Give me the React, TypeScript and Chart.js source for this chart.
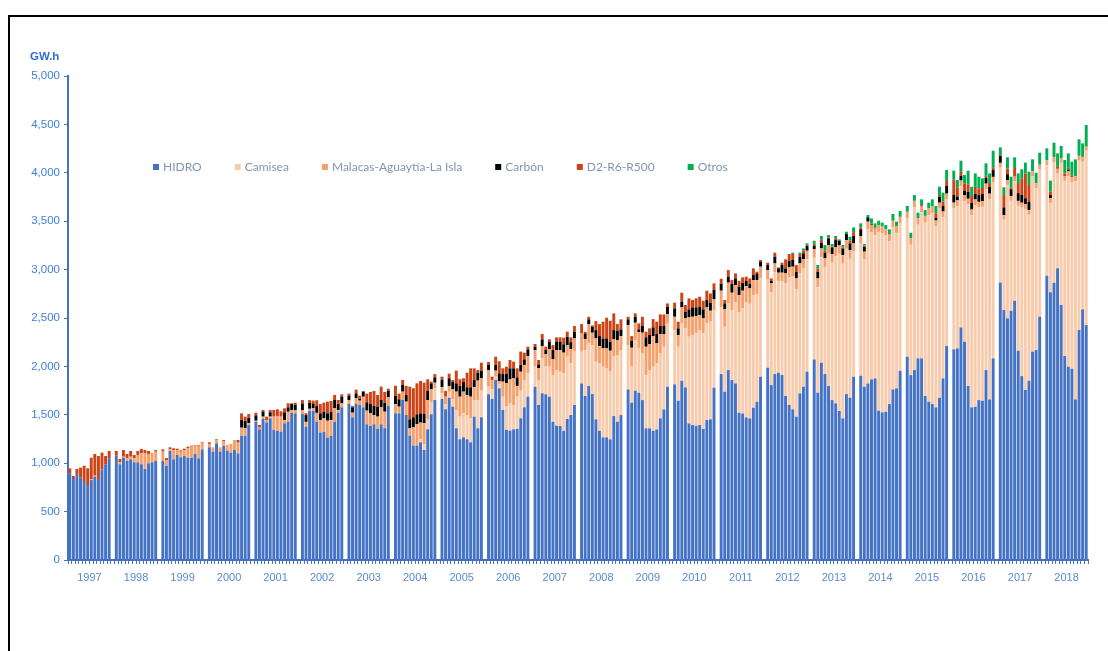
import React, { useEffect, useRef } from 'react';
import { Chart, registerables } from 'chart.js';

Chart.register(...registerables);

// ---------- DATA (monthly GW.h, Jan..Dec for each year) ----------
const years = [1997, 1998, 1999, 2000, 2001, 2002, 2003, 2004, 2005, 2006, 2007, 2008, 2009, 2010, 2011, 2012, 2013, 2014, 2015, 2016, 2017, 2018];

const hidro = [
  896, 837, 888, 850, 816, 764, 826, 861, 837, 937, 989, 1050,
  1078, 989, 1057, 1026, 1040, 1009, 1009, 989, 940, 999, 1009, 1023,
  1023, 974, 1126, 1040, 1085, 1061, 1074, 1057, 1057, 1095, 1050, 1143,
  1164, 1119, 1205, 1119, 1178, 1129, 1109, 1136, 1102, 1284, 1284, 1395,
  1429, 1350, 1457, 1422, 1464, 1343, 1336, 1326, 1412, 1429, 1522, 1515,
  1508, 1377, 1542, 1542, 1430, 1316, 1326, 1264, 1281, 1429, 1522, 1577,
  1612, 1474, 1612, 1601, 1577, 1402, 1385, 1402, 1354, 1402, 1361, 1591,
  1515, 1515, 1653, 1498, 1285, 1182, 1182, 1216, 1137, 1350, 1505, 1653,
  1664, 1557, 1677, 1584, 1361, 1247, 1268, 1247, 1216, 1481, 1361, 1474,
  1712, 1664, 1860, 1774, 1550, 1344, 1337, 1350, 1354, 1464, 1577, 1687,
  1790, 1601, 1722, 1712, 1687, 1429, 1388, 1385, 1333, 1457, 1498, 1601,
  1824, 1694, 1797, 1714, 1453, 1335, 1267, 1267, 1246, 1487, 1428, 1497,
  1762, 1625, 1749, 1728, 1652, 1360, 1360, 1335, 1349, 1463, 1556, 1790,
  1814, 1645, 1852, 1783, 1411, 1394, 1387, 1394, 1353, 1446, 1453, 1780,
  1921, 1738, 1962, 1859, 1824, 1521, 1514, 1473, 1463, 1573, 1635, 1893,
  1986, 1807, 1921, 1935, 1911, 1694, 1601, 1556, 1480, 1721, 1790, 1945,
  2072, 1728, 2038, 1921, 1797, 1652, 1618, 1539, 1463, 1714, 1676, 1893,
  1904, 1790, 1824, 1866, 1876, 1542, 1525, 1532, 1611, 1762, 1773, 1955,
  2100, 1910, 1962, 2083, 2083, 1694, 1635, 1611, 1577, 1676, 1876, 2210,
  2176, 2186, 2403, 2255, 1797, 1577, 1583, 1652, 1645, 1962, 1659, 2083,
  2868, 2582, 2496, 2575, 2679, 2162, 1900, 1756, 1852, 2152, 2169, 2513,
  2937, 2765, 2865, 3013, 2634, 2107, 1997, 1976, 1659, 2376, 2589, 2427,
];

const camisea = [
  0, 0, 0, 0, 0, 0, 0, 0, 0, 0, 0, 0,
  0, 0, 0, 0, 0, 0, 0, 0, 0, 0, 0, 0,
  0, 0, 0, 0, 0, 0, 0, 0, 0, 0, 0, 0,
  0, 0, 0, 0, 0, 0, 0, 0, 0, 0, 0, 0,
  0, 0, 0, 0, 0, 0, 0, 0, 0, 0, 0, 0,
  0, 0, 0, 0, 0, 0, 0, 0, 0, 0, 0, 0,
  0, 0, 0, 0, 0, 0, 0, 0, 0, 0, 0, 0,
  0, 0, 0, 0, 0, 0, 0, 30, 60, 100, 120, 120,
  60, 50, 60, 76, 189, 234, 247, 251, 247, 172, 292, 282,
  79, 99, 34, 40, 137, 240, 281, 251, 333, 292, 283, 241,
  207, 259, 361, 285, 310, 482, 575, 560, 595, 644, 534, 551,
  328, 475, 441, 506, 595, 696, 730, 712, 699, 613, 689, 672,
  458, 372, 523, 458, 482, 550, 602, 662, 682, 671, 647, 650,
  561, 558, 592, 610, 896, 930, 954, 981, 988, 998, 1009, 802,
  689, 672, 689, 723, 836, 1036, 1088, 1187, 1183, 1159, 1107, 1017,
  909, 961, 1053, 943, 967, 1167, 1322, 1374, 1319, 1243, 1226, 1160,
  1050, 1091, 1091, 1105, 1367, 1419, 1522, 1625, 1597, 1501, 1436, 1298,
  1363, 1315, 1591, 1518, 1477, 1848, 1850, 1818, 1680, 1672, 1602, 1520,
  1427, 1346, 1678, 1380, 1508, 1791, 1926, 1975, 1870, 1955, 1664, 1515,
  1456, 1469, 1457, 1452, 1875, 1983, 2082, 1988, 2003, 1866, 2065, 1815,
  1185, 932, 1379, 1135, 1231, 1498, 1741, 1871, 1713, 1812, 1672, 1520,
  1141, 921, 1246, 978, 1468, 1810, 1969, 1929, 2255, 1750, 1525, 1803,
];

const malacas = [
  0, 0, 0, 0, 0, 0, 10, 10, 0, 0, 0, 0,
  0, 20, 10, 24, 27, 41, 76, 113, 162, 96, 100, 96,
  103, 59, 17, 96, 51, 58, 62, 97, 114, 83, 128, 69,
  35, 45, 35, 45, 51, 60, 90, 104, 110, 83, 76, 20,
  10, 17, 24, 24, 17, 138, 152, 155, 34, 103, 28, 30,
  40, 50, 20, 25, 90, 130, 137, 175, 165, 138, 28, 41,
  41, 48, 58, 45, 110, 141, 130, 96, 127, 175, 171, 89,
  96, 69, 86, 138, 75, 188, 223, 173, 215, 203, 138, 59,
  60, 80, 60, 103, 189, 206, 224, 206, 224, 131, 200, 121,
  172, 97, 62, 35, 155, 241, 248, 276, 110, 189, 155, 179,
  172, 120, 128, 128, 179, 162, 206, 224, 214, 120, 148, 137,
  189, 114, 199, 128, 241, 179, 189, 207, 217, 179, 155, 144,
  207, 196, 179, 169, 214, 293, 269, 316, 207, 200, 128, 100,
  138, 121, 166, 103, 199, 189, 179, 155, 155, 166, 113, 110,
  172, 179, 214, 179, 180, 180, 180, 170, 160, 160, 150, 120,
  100, 90, 90, 90, 90, 100, 100, 100, 110, 100, 90, 90,
  90, 90, 90, 90, 90, 90, 90, 90, 90, 90, 90, 80,
  80, 80, 80, 70, 70, 70, 70, 70, 70, 70, 70, 70,
  70, 70, 70, 70, 60, 70, 70, 70, 60, 60, 60, 60,
  60, 60, 60, 60, 60, 60, 60, 60, 60, 60, 60, 60,
  50, 50, 50, 50, 50, 50, 50, 50, 50, 50, 50, 50,
  50, 50, 50, 50, 50, 50, 50, 50, 50, 50, 50, 40,
];

const carbon = [
  0, 0, 0, 0, 0, 0, 0, 0, 0, 0, 0, 0,
  0, 0, 0, 0, 0, 0, 0, 0, 0, 0, 0, 0,
  0, 0, 0, 0, 0, 0, 0, 0, 0, 0, 0, 0,
  0, 0, 0, 0, 0, 0, 0, 0, 0, 79, 75, 55,
  55, 0, 52, 0, 45, 0, 0, 0, 79, 45, 62, 60,
  70, 70, 60, 50, 70, 69, 69, 76, 86, 86, 62, 69,
  45, 55, 52, 20, 52, 86, 96, 93, 103, 76, 93, 69,
  87, 76, 69, 68, 93, 104, 100, 96, 96, 96, 62, 55,
  75, 0, 80, 79, 86, 110, 103, 80, 97, 75, 82, 79,
  52, 0, 59, 79, 79, 96, 114, 103, 90, 70, 58, 69,
  35, 40, 68, 44, 76, 96, 87, 87, 86, 86, 70, 69,
  0, 58, 49, 62, 86, 103, 103, 103, 93, 96, 96, 69,
  59, 72, 62, 27, 69, 97, 93, 90, 96, 83, 86, 76,
  86, 69, 58, 69, 83, 97, 90, 87, 93, 76, 83, 97,
  69, 62, 62, 90, 69, 86, 83, 52, 45, 52, 69, 52,
  52, 27, 69, 45, 79, 52, 69, 69, 69, 69, 62, 48,
  35, 69, 59, 58, 69, 69, 75, 45, 69, 62, 69, 76,
  69, 52, 45, 0, 0, 0, 0, 0, 0, 0, 0, 0,
  0, 0, 0, 0, 0, 0, 0, 0, 30, 60, 60, 80,
  79, 40, 50, 50, 70, 70, 60, 70, 75, 60, 70, 70,
  70, 79, 60, 70, 0, 80, 80, 60, 87, 0, 0, 0,
  0, 34, 0, 0, 0, 0, 15, 0, 0, 0, 0, 0,
];

const d2 = [
  51, 31, 52, 104, 158, 183, 221, 224, 237, 172, 85, 76,
  48, 34, 69, 45, 59, 35, 41, 45, 34, 31, 0, 17,
  17, 21, 21, 18, 14, 14, 14, 17, 10, 7, 7, 8,
  17, 0, 7, 0, 10, 0, 0, 0, 28, 69, 46, 38,
  28, 28, 17, 35, 24, 69, 69, 55, 42, 42, 7, 20,
  35, 20, 30, 30, 60, 97, 94, 121, 111, 52, 41, 25,
  21, 14, 38, 32, 7, 90, 125, 155, 121, 138, 111, 21,
  103, 59, 52, 94, 338, 300, 320, 335, 324, 118, 18, 33,
  35, 59, 48, 18, 131, 70, 35, 151, 196, 121, 28, 83,
  31, 34, 86, 125, 59, 76, 86, 69, 93, 138, 69, 28,
  28, 46, 56, 35, 28, 52, 44, 44, 69, 52, 50, 59,
  96, 17, 27, 14, 93, 124, 173, 214, 217, 173, 69, 104,
  27, 48, 35, 62, 96, 58, 69, 86, 128, 120, 120, 34,
  59, 69, 93, 69, 114, 76, 93, 103, 90, 96, 96, 69,
  55, 35, 68, 41, 52, 62, 55, 45, 58, 69, 17, 17,
  24, 24, 42, 10, 24, 93, 69, 62, 69, 28, 30, 10,
  20, 35, 30, 20, 10, 10, 20, 0, 10, 0, 30, 40,
  20, 10, 0, 20, 10, 0, 0, 0, 0, 0, 0, 0,
  0, 0, 0, 0, 15, 0, 0, 0, 45, 20, 45, 50,
  161, 90, 40, 70, 80, 70, 70, 70, 60, 20, 40, 30,
  10, 127, 60, 20, 90, 104, 171, 257, 172, 0, 0, 0,
  0, 35, 0, 20, 0, 25, 20, 20, 0, 0, 0, 0,
];

const otros = [
  0, 0, 0, 0, 0, 0, 0, 0, 0, 0, 0, 0,
  0, 0, 0, 0, 0, 0, 0, 0, 0, 0, 0, 0,
  0, 0, 0, 0, 0, 0, 0, 0, 0, 0, 0, 0,
  0, 0, 0, 0, 0, 0, 0, 0, 0, 0, 0, 0,
  0, 0, 0, 0, 0, 0, 0, 0, 0, 0, 0, 0,
  0, 0, 0, 0, 0, 0, 0, 0, 0, 0, 0, 0,
  0, 0, 0, 0, 0, 0, 0, 0, 0, 0, 0, 0,
  0, 0, 0, 0, 0, 0, 0, 0, 0, 0, 0, 0,
  0, 0, 0, 0, 0, 0, 0, 0, 0, 0, 0, 0,
  0, 0, 0, 0, 0, 0, 0, 0, 0, 0, 0, 0,
  0, 0, 0, 0, 0, 0, 0, 0, 0, 0, 0, 0,
  0, 0, 0, 0, 0, 0, 0, 0, 0, 0, 0, 0,
  0, 0, 0, 0, 0, 0, 0, 0, 0, 0, 0, 0,
  0, 0, 0, 0, 0, 0, 0, 0, 0, 0, 0, 0,
  0, 0, 0, 0, 0, 0, 0, 0, 0, 0, 0, 0,
  0, 0, 0, 0, 0, 0, 0, 14, 0, 14, 20, 18,
  31, 34, 39, 60, 24, 24, 22, 13, 25, 24, 39, 49,
  42, 17, 24, 55, 45, 45, 40, 40, 55, 70, 50, 60,
  60, 55, 60, 55, 60, 60, 60, 70, 75, 85, 90, 114,
  90, 80, 115, 90, 140, 96, 139, 120, 100, 130, 100, 170,
  80, 80, 115, 110, 110, 100, 94, 111, 138, 125, 110, 125,
  125, 114, 150, 140, 125, 140, 150, 140, 175, 170, 140, 224,
];

const seriesNames = ['HIDRO', 'Camisea', 'Malacas-Aguaytía-La Isla', 'Carbón', 'D2-R6-R500', 'Otros'];
const seriesColors = ['#4472C4', '#F8CBAD', '#F5A16E', '#000000', '#CC4416', '#00B050'];
const seriesValues = [hidro, camisea, malacas, carbon, d2, otros];
const unitLabel = 'GW.h';
const yMin = 0;
const yMax = 5000;
const yStep = 500;

// Build category slots: 12 months per year + one empty slot between years
function buildSlots() {
  const labels: string[] = [];
  const idx: (number | null)[] = [];
  years.forEach((y, k) => {
    for (let m = 0; m < 12; m++) {
      labels.push(m === 5 ? String(y) : '');
      idx.push(k * 12 + m);
    }
    if (k < years.length - 1) {
      labels.push('');
      idx.push(null);
    }
  });
  return { labels, idx };
}

const overlayPlugin = {
  id: 'overlayText',
  afterDraw(chart: any) {
    const ctx = chart.ctx;
    ctx.save();
    // legend
    ctx.font = '12px Lato, "Open Sans", sans-serif';
    ctx.textBaseline = 'middle';
    let x = 153;
    const y = 167;
    chart.data.datasets.forEach((ds: any) => {
      ctx.fillStyle = ds.backgroundColor;
      ctx.fillRect(x, y - 3, 6, 6);
      x += 10;
      ctx.fillStyle = '#8595AF';
      ctx.fillText(ds.label, x, y);
      x += ctx.measureText(ds.label).width + 33;
    });
    // unit label
    ctx.font = 'bold 11.5px Arial, "Liberation Sans", sans-serif';
    ctx.fillStyle = '#2E6FD0';
    ctx.textBaseline = 'middle';
    ctx.textAlign = 'left';
    ctx.fillText(unitLabel, 30, 57);
    ctx.restore();
  },
};

export default function App() {
  const ref = useRef<HTMLCanvasElement | null>(null);

  useEffect(() => {
    if (!ref.current) return;
    const { labels, idx } = buildSlots();
    const datasets = seriesNames.map((name, s) => ({
      label: name,
      data: idx.map((i) => (i === null ? null : seriesValues[s][i])),
      backgroundColor: seriesColors[s],
      borderWidth: 0,
      categoryPercentage: 0.82,
      barPercentage: 1.0,
    }));
    const chart = new Chart(ref.current, {
      type: 'bar',
      data: { labels, datasets },
      options: {
        animation: false,
        responsive: false,
        devicePixelRatio: 1,
        layout: { padding: { top: 76, right: 20, left: 0, bottom: 0 } },
        plugins: {
          legend: { display: false },
          tooltip: { enabled: false },
          title: { display: false },
        },
        scales: {
          x: {
            stacked: true,
            grid: {
              display: true,
              drawOnChartArea: false,
              drawTicks: true,
              tickLength: 4,
              color: '#4472C4',
              offset: true,
            },
            border: { display: true, color: '#4472C4', width: 2 },
            ticks: {
              autoSkip: false,
              maxRotation: 0,
              minRotation: 0,
              color: '#5A89D3',
              font: { family: 'Arial, "Liberation Sans", sans-serif', size: 11 },
              padding: 7,
              labelOffset: 1.8,
            },
            afterFit: (s: any) => {
              s.height = 91;
            },
          },
          y: {
            stacked: true,
            min: yMin,
            max: yMax,
            ticks: {
              stepSize: yStep,
              color: '#3D7FDB',
              font: { family: 'Arial, "Liberation Sans", sans-serif', size: 11.5 },
              padding: 4,
              callback: (v: any) => Number(v).toLocaleString('en-US'),
            },
            grid: { display: true, drawOnChartArea: false, tickLength: 4, color: '#4472C4' },
            border: { display: true, color: '#4472C4', width: 2 },
            afterFit: (s: any) => {
              s.width = 68;
            },
          },
        },
      },
      plugins: [overlayPlugin],
    });
    return () => chart.destroy();
  }, []);

  return (
    <div style={{ position: 'absolute', left: 0, top: 0, width: 1108, height: 651, overflow: 'hidden', background: '#fff' }}>
      <canvas ref={ref} width={1108} height={651} style={{ position: 'absolute', left: 0, top: 0, width: 1108, height: 651 }} />
      <div
        style={{
          position: 'absolute',
          left: 8,
          top: 15,
          width: 1100,
          height: 636,
          borderTop: '2px solid #000',
          borderLeft: '2px solid #000',
          boxSizing: 'border-box',
          pointerEvents: 'none',
        }}
      />
    </div>
  );
}
